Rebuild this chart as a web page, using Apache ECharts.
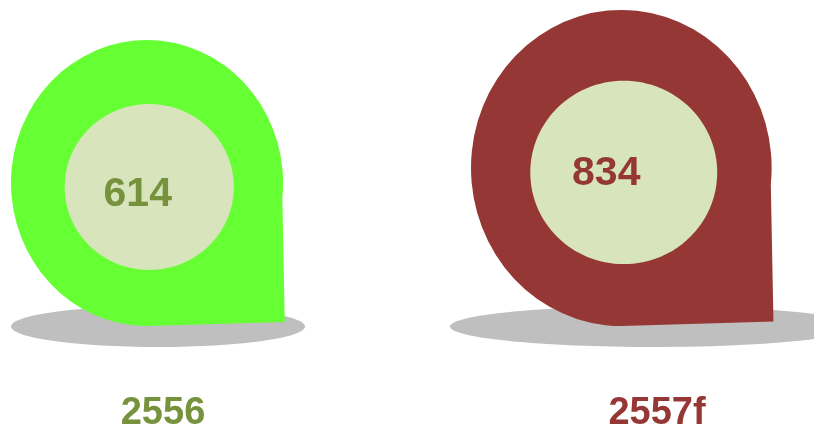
<!DOCTYPE html>
<html>
<head>
<meta charset="utf-8">
<style>html,body{margin:0;padding:0;background:#fff}#c{width:814px;height:430px}</style>
<script src="https://cdn.jsdelivr.net/npm/echarts@6/dist/echarts.min.js"></script>
</head>
<body>
<div id="c"></div>
<script>
var categories = ['2556', '2557f'];
var values = [614, 834];

var dropColors = ['#66FF33', '#953735'];
var textColors = ['#76923C', '#953735'];
var innerColor = '#D8E4BC';
var shadowColor = '#BFBFBF';
var font = '"Liberation Sans", Arial, sans-serif';
// per-category drawing offsets relative to the category centre, in pixels
var dropShift = [-152, -186];
var shadowShift = [-5, -4];
var shadowRx = [147, 203];
var labelShift = [[-11.5, 7.5], [-17.5, 1]];

function renderItem(params, api) {
  var i = api.value(0);
  var top = api.coord([i, api.value(1)]);
  var base = api.coord([i, -1483]);
  var h = base[1] - top[1];
  var w = h * 0.957;
  var x0 = top[0] + dropShift[i];
  var y0 = top[1];
  var rx = w * 0.497, ry = h / 2;
  var cx = x0 + rx, cy = y0 + ry;
  var a = 6 * Math.PI / 180;
  var sx = cx + rx * Math.cos(a), sy = cy + ry * Math.sin(a);
  var d = 'M' + sx + ' ' + sy +
    ' A' + rx + ' ' + ry + ' 0 1 0 ' + cx + ' ' + (y0 + h) +
    ' L' + (x0 + w) + ' ' + (y0 + h * 0.986) + ' Z';
  var icx = x0 + w * 0.505, icy = y0 + h * 0.514;
  return {
    type: 'group',
    children: [
      { type: 'ellipse',
        shape: { cx: top[0] + shadowShift[i], cy: base[1] + 0.5, rx: shadowRx[i], ry: 20.5 },
        style: { fill: shadowColor } },
      { type: 'path', shape: { pathData: d }, style: { fill: dropColors[i] } },
      { type: 'ellipse',
        shape: { cx: icx, cy: icy, rx: w * 0.309, ry: h * 0.29 },
        style: { fill: innerColor } },
      { type: 'text',
        style: {
          x: icx + labelShift[i][0], y: icy + labelShift[i][1],
          text: String(api.value(1)),
          fill: textColors[i],
          font: 'bold 41px ' + font,
          align: 'center', verticalAlign: 'middle'
        } }
    ]
  };
}

var chart = echarts.init(document.getElementById('c'), null, { renderer: 'canvas' });
chart.setOption({
  animation: false,
  backgroundColor: '#fff',
  grid: { left: -84, width: 988, top: 0, height: 326, containLabel: false, outerBoundsMode: 'none' },
  xAxis: {
    type: 'category',
    data: categories.map(function (c, i) {
      return { value: c, textStyle: { color: textColors[i] } };
    }),
    axisLine: { show: false },
    axisTick: { show: false },
    axisLabel: { margin: 69, fontSize: 38, fontWeight: 'bold', fontFamily: font, interval: 0 }
  },
  yAxis: { type: 'value', min: -1483, max: 907, show: false, splitLine: { show: false } },
  series: [{
    type: 'custom',
    clip: false,
    renderItem: renderItem,
    encode: { x: 0, y: 1 },
    data: categories.map(function (c, i) { return [i, values[i]]; })
  }]
});
</script>
</body>
</html>
